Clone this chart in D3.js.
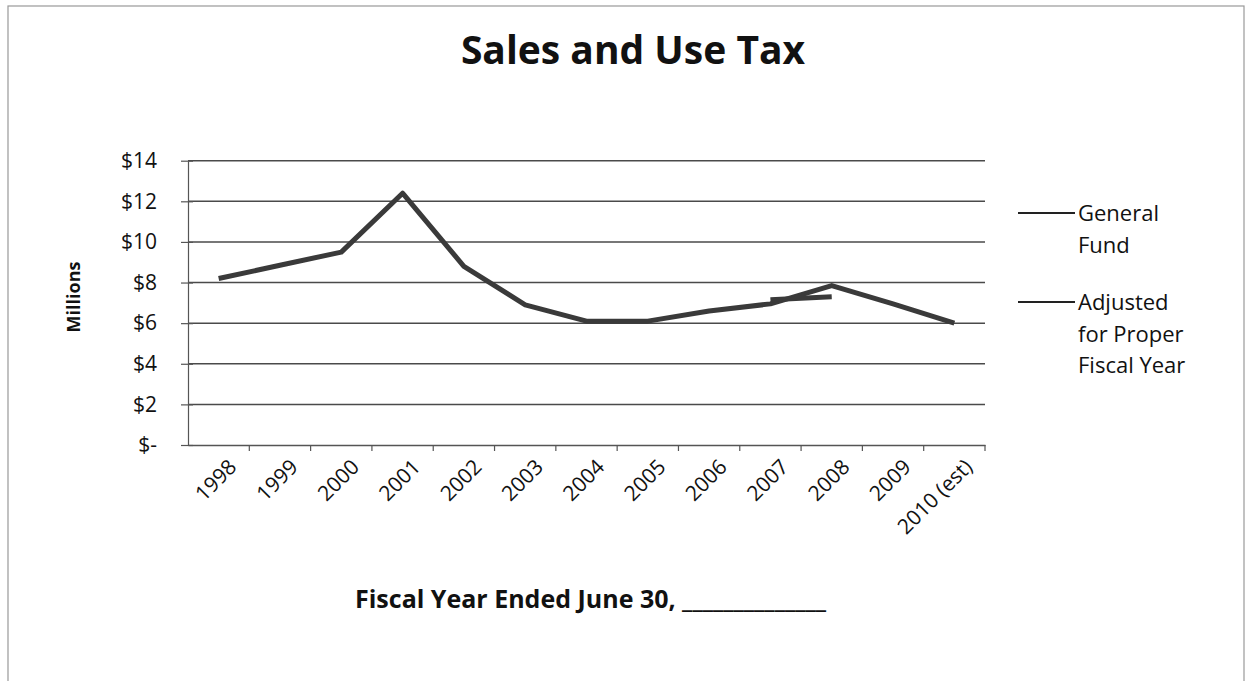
<!DOCTYPE html>
<html>
<head>
<meta charset="utf-8">
<script src="https://cdn.jsdelivr.net/npm/d3@7"></script>
<style>
    body { margin: 0; background: #fff; }
    svg text { font-family: "Open Sans", Lato, sans-serif; fill: #111; }
</style>
</head>
<body>
<svg id="chart" width="1249" height="681"></svg>
<script>

var years = ["1998", "1999", "2000", "2001", "2002", "2003", "2004", "2005", "2006", "2007", "2008", "2009", "2010 (est)"];
var generalFund = [8.2, 8.85, 9.5, 12.4, 8.8, 6.9, 6.1, 6.1, 6.6, 6.95, 7.85, 6.95, 6.0];
var adjustedYears = ["2007", "2008"];
var adjustedValues = [7.15, 7.3];
var yTicks = [0, 2, 4, 6, 8, 10, 12, 14];
var seriesNames = [["General", "Fund"], ["Adjusted", "for Proper", "Fiscal Year"]];

SalesTaxChart = function (_parentElement) {
    this.parentElement = _parentElement;
    this.width = 1249;
    this.height = 681;
    this.initVis();
}

SalesTaxChart.prototype.initVis = function () {
    var vis = this;
    vis.svg = d3.select("#" + vis.parentElement);

    vis.left = 188;
    vis.right = 985;
    vis.top = 160.7;
    vis.bottom = 445;

    vis.xScale = d3.scaleBand()
        .domain(years)
        .range([vis.left, vis.right]);

    vis.yScale = d3.scaleLinear()
        .domain([0, 14])
        .range([vis.bottom, vis.top]);

    vis.updateVis();
}

SalesTaxChart.prototype.updateVis = function () {
    var vis = this;
    var svg = vis.svg;

    // faint scanned border
    svg.append("rect")
        .attr("x", 8).attr("y", 6)
        .attr("width", 1236).attr("height", 680)
        .attr("fill", "none")
        .attr("stroke", "#999")
        .attr("stroke-width", 1.2);

    svg.append("text")
        .attr("x", 633).attr("y", 64)
        .attr("text-anchor", "middle")
        .style("font-size", "39px")
        .style("font-weight", "bold")
        .text("Sales and Use Tax");

    // gridlines
    svg.selectAll(".grid")
        .data(yTicks.slice(1))
        .enter()
        .append("line")
        .attr("class", "grid")
        .attr("x1", vis.left).attr("x2", vis.right)
        .attr("y1", function (d) { return vis.yScale(d); })
        .attr("y2", function (d) { return vis.yScale(d); })
        .attr("stroke", "#4a4a4a")
        .attr("stroke-width", 1.5);

    // y axis
    var yAxis = d3.axisLeft(vis.yScale)
        .tickValues(yTicks)
        .tickSize(0)
        .tickPadding(31)
        .tickFormat(function (d) { return d === 0 ? "$-" : "$" + d; });

    var yg = svg.append("g")
        .attr("transform", "translate(" + vis.left + ",0)")
        .call(yAxis);
    yg.select(".domain").attr("stroke", "#555").attr("stroke-width", 1.2);
    yg.selectAll(".tick line").remove();
    yg.selectAll(".tick").append("line")
        .attr("x1", -7).attr("x2", 5)
        .attr("stroke", "#555").attr("stroke-width", 1.2);
    yg.selectAll(".tick text")
        .style("font-size", "21px")
        .style("font-family", "'Open Sans', sans-serif")
        .attr("fill", "#111");

    // x axis
    var xAxis = d3.axisBottom(vis.xScale).tickSize(0).tickFormat("");
    var xg = svg.append("g")
        .attr("transform", "translate(0," + vis.bottom + ")")
        .call(xAxis);
    xg.select(".domain").attr("stroke", "#555").attr("stroke-width", 1.5);
    xg.selectAll(".xtick")
        .data(years)
        .enter()
        .append("line")
        .attr("x1", function (d) { return vis.xScale(d) + vis.xScale.bandwidth(); })
        .attr("x2", function (d) { return vis.xScale(d) + vis.xScale.bandwidth(); })
        .attr("y1", 0).attr("y2", 6)
        .attr("stroke", "#555").attr("stroke-width", 1.2);

    svg.selectAll(".xlabel")
        .data(years)
        .enter()
        .append("text")
        .attr("class", "xlabel")
        .attr("text-anchor", "end")
        .attr("dy", "0.35em")
        .attr("transform", function (d) {
            var x = vis.xScale(d) + vis.xScale.bandwidth() / 2 + 14;
            return "translate(" + x + ",463) rotate(-45)";
        })
        .style("font-size", "21px")
        .text(function (d) { return d; });

    // series
    var line = d3.line()
        .x(function (d) { return vis.xScale(d[0]) + vis.xScale.bandwidth() / 2; })
        .y(function (d) { return vis.yScale(d[1]); });

    svg.append("path")
        .datum(years.map(function (y, i) { return [y, generalFund[i]]; }))
        .attr("d", line)
        .attr("fill", "none")
        .attr("stroke", "#3a3a3a")
        .attr("stroke-width", 5)
        .attr("stroke-linejoin", "round");

    svg.append("path")
        .datum(adjustedYears.map(function (y, i) { return [y, adjustedValues[i]]; }))
        .attr("d", line)
        .attr("fill", "none")
        .attr("stroke", "#3a3a3a")
        .attr("stroke-width", 5);

    // axis titles
    svg.append("text")
        .attr("transform", "translate(80,297) rotate(-90)")
        .attr("text-anchor", "middle")
        .style("font-size", "18px")
        .style("font-weight", "bold")
        .text("Millions");

    svg.append("text")
        .attr("x", 355).attr("y", 608)
        .style("font-size", "25px")
        .style("font-weight", "bold")
        .text("Fiscal Year Ended June 30, ______________");

    // legend
    var legendY = [213, 302];
    var legend = svg.selectAll(".legend")
        .data(seriesNames)
        .enter()
        .append("g")
        .attr("class", "legend")
        .attr("transform", function (d, i) { return "translate(1018," + legendY[i] + ")"; });

    legend.append("line")
        .attr("x1", 0).attr("x2", 57)
        .attr("stroke", "#222")
        .attr("stroke-width", 2);

    legend.each(function (d) {
        var t = d3.select(this).append("text")
            .attr("x", 60).attr("y", 8)
            .style("font-size", "22px");
        d.forEach(function (s, j) {
            t.append("tspan").attr("x", 60).attr("dy", j === 0 ? 0 : 31.5).text(s);
        });
    });
}

new SalesTaxChart("chart");
</script>
</body>
</html>
